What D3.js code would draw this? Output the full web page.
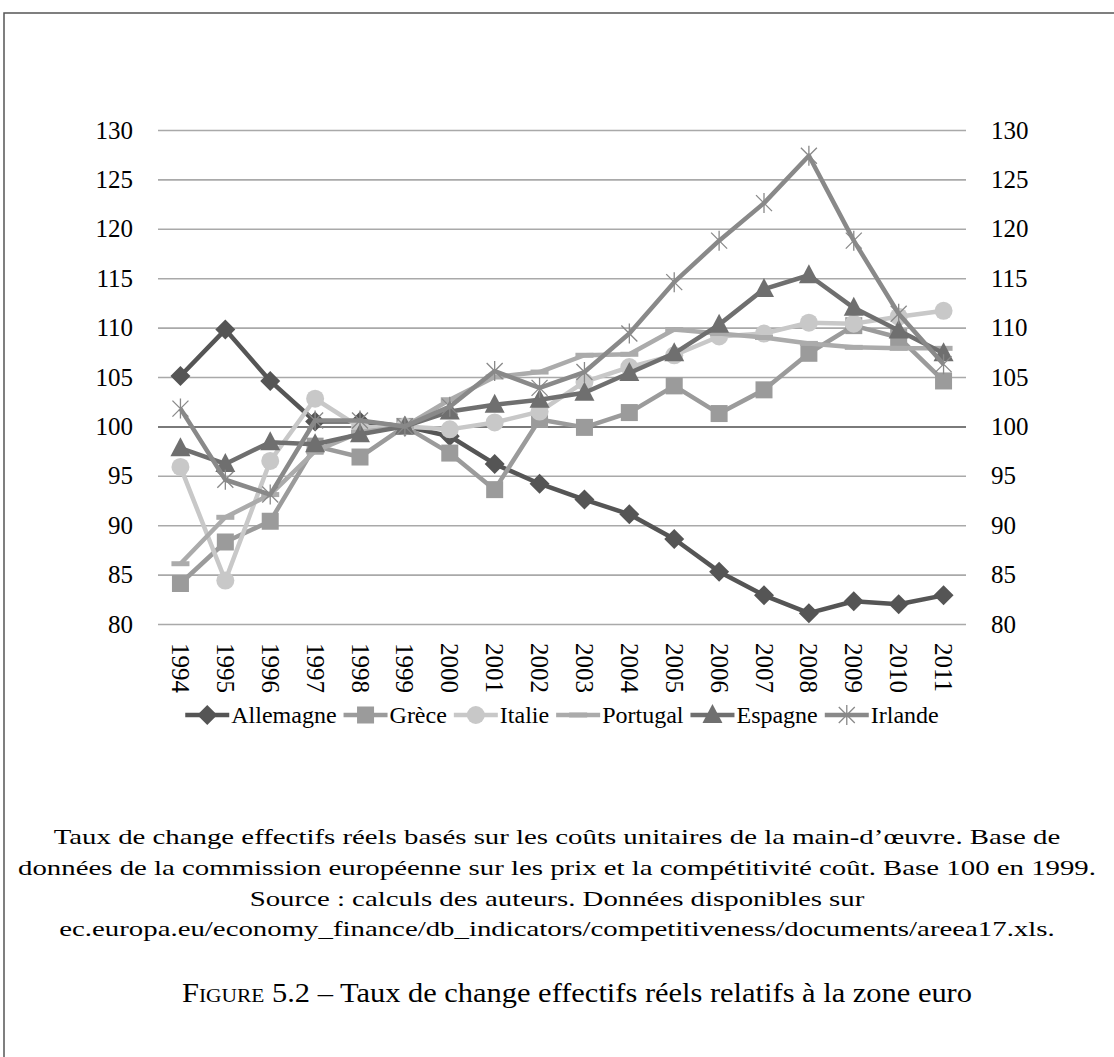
<!DOCTYPE html>
<html>
<head>
<meta charset="utf-8">
<script src="https://cdn.jsdelivr.net/npm/d3@7"></script>
<style>
  body { margin: 0; background: #fff; }
  svg { display: block; font-family: "Liberation Serif", "Times New Roman", serif; }
</style>
</head>
<body>
<svg id="chart" width="1114" height="1057"></svg>
<script>
// data (base 100 en 1999)
const years = ["1994","1995","1996","1997","1998","1999","2000","2001","2002","2003","2004","2005","2006","2007","2008","2009","2010","2011"];
const allemagne = [105.1,109.8,104.6,100.5,100.5,100,99.0,96.2,94.2,92.6,91.1,88.6,85.3,82.9,81.1,82.3,82.0,82.9];
const grece     = [84.1,88.3,90.4,98.0,96.9,100,97.3,93.6,100.7,99.9,101.4,104.1,101.3,103.7,107.4,110.2,109.0,104.6];
const italie    = [95.9,84.4,96.5,102.8,99.9,100,99.7,100.4,101.5,104.5,106.0,107.2,109.1,109.4,110.5,110.4,111.1,111.7];
const portugal  = [86.1,90.8,93.1,97.5,99.4,100,102.7,105.0,105.5,107.2,107.3,109.8,109.4,109.0,108.4,108.0,107.9,107.9];
const espagne   = [97.8,96.2,98.4,98.2,99.2,100,101.5,102.2,102.7,103.4,105.4,107.4,110.3,113.9,115.3,112.0,109.7,107.4];
const irlande   = [101.8,94.6,93.1,100.6,100.6,100,102.0,105.6,103.9,105.5,109.4,114.6,118.8,122.6,127.4,118.8,111.4,106.3];
const yTicks = [80,85,90,95,100,105,110,115,120,125,130];

const series = [
  { name: "Allemagne", values: allemagne, color: "#555555", marker: "diamond" },
  { name: "Grèce",     values: grece,     color: "#9b9b9b", marker: "square" },
  { name: "Italie",    values: italie,    color: "#c8c8c8", marker: "circle" },
  { name: "Portugal",  values: portugal,  color: "#ababab", marker: "dash" },
  { name: "Espagne",   values: espagne,   color: "#6f6f6f", marker: "triangle" },
  { name: "Irlande",   values: irlande,   color: "#898989", marker: "star" }
];

const captionLines = [
  "Taux de change effectifs réels basés sur les coûts unitaires de la main-d’œuvre. Base de",
  "données de la commission européenne sur les prix et la compétitivité coût. Base 100 en 1999.",
  "Source : calculs des auteurs. Données disponibles sur",
  "ec.europa.eu/economy_finance/db_indicators/competitiveness/documents/areea17.xls."
];

const svg = d3.select("#chart");
const plotLeft = 158, plotRight = 966, plotTop = 130, plotBottom = 624;

// outer frame (open at right / bottom like the scanned page)
svg.append("path")
  .attr("d", "M4,1057 V13 H1114")
  .attr("fill", "none")
  .attr("stroke", "#555")
  .attr("stroke-width", 1.5);

const x = d3.scalePoint().domain(years).range([plotLeft, plotRight]).padding(0.5);
const y = d3.scaleLinear().domain([80, 130]).range([plotBottom, plotTop]);

// gridlines
const grid = svg.append("g").attr("transform", "translate(" + plotLeft + ",0)")
  .call(d3.axisLeft(y).tickValues(yTicks).tickSize(-(plotRight - plotLeft)).tickFormat(""));
grid.select(".domain").remove();
grid.selectAll(".tick line")
  .attr("stroke", d => d === 100 ? "#7a7a7a" : "#a9a9a9")
  .attr("stroke-width", d => d === 100 ? 2 : 1.6);

// y labels both sides
const yl = svg.append("g").attr("transform", "translate(" + plotLeft + ",0)")
  .call(d3.axisLeft(y).tickValues(yTicks).tickSize(0).tickPadding(25));
yl.select(".domain").remove();
const yr = svg.append("g").attr("transform", "translate(" + plotRight + ",0)")
  .call(d3.axisRight(y).tickValues(yTicks).tickSize(0).tickPadding(25));
yr.select(".domain").remove();
svg.selectAll(".tick text")
  .attr("font-family", "Liberation Serif, serif")
  .attr("font-size", 25)
  .attr("fill", "#000");

// x labels, rotated
const xa = svg.append("g").attr("transform", "translate(0," + plotBottom + ")")
  .call(d3.axisBottom(x).tickSize(0).tickPadding(0));
xa.select(".domain").remove();
xa.selectAll(".tick text")
  .attr("font-family", "Liberation Serif, serif")
  .attr("font-size", 25)
  .attr("fill", "#000")
  .attr("text-anchor", "start")
  .attr("y", 0)
  .attr("dy", null)
  .attr("transform", "translate(-9,19) rotate(90)");

function drawMarker(g, kind, color) {
  if (kind === "diamond") {
    g.append("path").attr("d", "M0,-10 L10,0 L0,10 L-10,0 Z").attr("fill", color);
  } else if (kind === "square") {
    g.append("rect").attr("x", -8.5).attr("y", -8.5).attr("width", 17).attr("height", 17).attr("fill", color);
  } else if (kind === "circle") {
    g.append("circle").attr("r", 9).attr("fill", color);
  } else if (kind === "dash") {
    g.append("rect").attr("x", -9).attr("y", -2.5).attr("width", 18).attr("height", 5).attr("fill", color);
  } else if (kind === "triangle") {
    g.append("path").attr("d", "M0,-11 L10,8 L-10,8 Z").attr("fill", color);
  } else if (kind === "star") {
    g.append("path").attr("d", "M-8,-8 L8,8 M-8,8 L8,-8 M0,-10 V10")
      .attr("stroke", color).attr("stroke-width", 1.3).attr("fill", "none");
  }
}

const line = d3.line().x((d, i) => x(years[i])).y(d => y(d));

series.forEach(s => {
  const g = svg.append("g");
  g.append("path")
    .datum(s.values)
    .attr("d", line)
    .attr("fill", "none")
    .attr("stroke", s.color)
    .attr("stroke-width", 4.5)
    .attr("stroke-linejoin", "round");
  g.selectAll(".m")
    .data(s.values)
    .enter()
    .append("g")
    .attr("transform", (d, i) => "translate(" + x(years[i]) + "," + y(d) + ")")
    .each(function () { drawMarker(d3.select(this), s.marker, s.color); });
});

// legend
const legend = svg.append("g");
let lx = 0;
const ly = 715;
series.forEach(s => {
  const item = legend.append("g").attr("transform", "translate(" + lx + "," + ly + ")");
  item.append("line").attr("x1", 0).attr("x2", 44).attr("stroke", s.color).attr("stroke-width", 4.5);
  const m = item.append("g").attr("transform", "translate(22,0)");
  drawMarker(m, s.marker, s.color);
  const t = item.append("text")
    .attr("x", 46).attr("y", 8)
    .attr("font-size", 24)
    .attr("fill", "#000")
    .text(s.name);
  lx += 46 + t.node().getComputedTextLength() + 7;
});
legend.attr("transform", "translate(" + ((plotLeft + plotRight) / 2 - (lx - 7) / 2) + ",0)");

// caption: centred lines, one common horizontal stretch so line 2 fills the width
const capY = [844, 875, 906, 936];
const capCenter = 557;
const capNodes = captionLines.map((c, i) => svg.append("text")
  .attr("x", capCenter).attr("y", capY[i])
  .attr("font-size", 22)
  .attr("text-anchor", "middle")
  .attr("fill", "#000")
  .text(c));
const stretch = 1078 / capNodes[1].node().getComputedTextLength();
capNodes.forEach(n => {
  n.attr("textLength", n.node().getComputedTextLength() * stretch)
   .attr("lengthAdjust", "spacingAndGlyphs");
});

const title = svg.append("text")
  .attr("x", 577).attr("y", 1002)
  .attr("font-size", 27)
  .attr("text-anchor", "middle")
  .attr("textLength", 790)
  .attr("lengthAdjust", "spacingAndGlyphs")
  .attr("fill", "#000");
title.append("tspan").style("font-variant", "small-caps").text("Figure 5.2");
title.append("tspan").text(" – Taux de change effectifs réels relatifs à la zone euro");
</script>
</body>
</html>
